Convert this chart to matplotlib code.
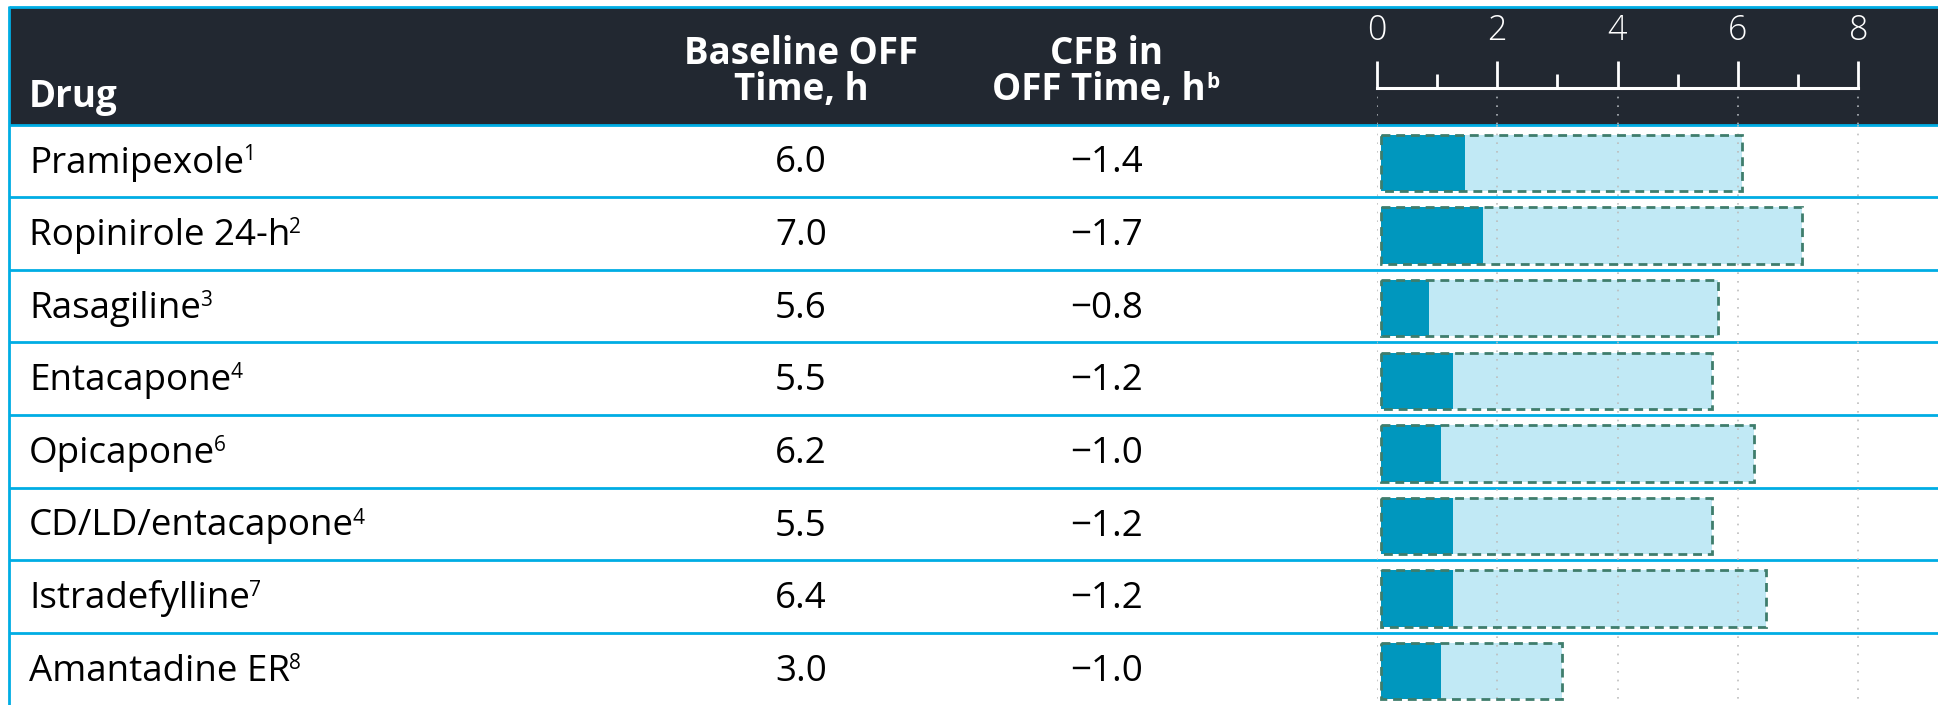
import matplotlib
matplotlib.use("Agg")
import matplotlib.pyplot as plt
from matplotlib.patches import Rectangle
from matplotlib.ticker import FixedLocator

# ---- data ----
drugs = ["Pramipexole", "Ropinirole 24-h", "Rasagiline", "Entacapone",
         "Opicapone", "CD/LD/entacapone", "Istradefylline", "Amantadine ER"]
refs = ["1", "2", "3", "4", "6", "4", "7", "8"]
baseline_off = [6.0, 7.0, 5.6, 5.5, 6.2, 5.5, 6.4, 3.0]
cfb_off = [-1.4, -1.7, -0.8, -1.2, -1.0, -1.2, -1.2, -1.0]
major_ticks = [0, 2, 4, 6, 8]
minor_ticks = [1, 3, 5, 7]

# ---- style ----
FONT = ["Open Sans", "DejaVu Sans"]
plt.rcParams["font.family"] = FONT
DARK_HDR = "#222831"
CYAN = "#00ADE4"
BAR_DARK = "#0097BE"
BAR_LIGHT = "#C1E9F5"
EDGE = "#3F7D6C"
GRID = "#bdbdbd"

W, H = 1938, 705
HDR_TOP, HDR_BOT = 7.5, 124.5
ROW_H = 72.6
LEFT = 9.5
X0, UNIT = 1376.7, 60.2          # pixel of value 0 and pixels per hour
COL_BASE, COL_CFB = 801, 1107
TXT_X = 29
FS = 26.5
FS_SUP = 15

fig = plt.figure(figsize=(W / 100, H / 100), dpi=100)
fig.patch.set_facecolor("white")

# background axes in pixel units (y downwards)
bg = fig.add_axes([0, 0, 1, 1])
bg.set_xlim(0, W)
bg.set_ylim(H, 0)
bg.axis("off")

bg.add_patch(Rectangle((LEFT, HDR_TOP), W - LEFT, HDR_BOT - HDR_TOP,
                       facecolor=DARK_HDR, edgecolor="none", zorder=0))
# table rules
bg.plot([LEFT, W], [6.5, 6.5], color=CYAN, lw=2.0, solid_capstyle="butt", zorder=5)
bg.plot([LEFT, LEFT], [5.5, H], color=CYAN, lw=2.0, solid_capstyle="butt", zorder=5)
for k in range(len(drugs)):
    y = HDR_BOT + k * ROW_H
    bg.plot([LEFT, W], [y, y], color=CYAN, lw=2.0, solid_capstyle="butt", zorder=5)

renderer = fig.canvas.get_renderer()


def text_sup(x, y, main, sup, ha="left", gap=0.0, **kw):
    t = bg.text(x, y, main, ha=ha, va="baseline", **kw)
    bb = t.get_window_extent(renderer)
    kw2 = dict(kw)
    kw2["fontsize"] = FS_SUP
    bg.text(bb.x1 + gap, y - 12, sup, ha="left", va="baseline", **kw2)
    return t


# header
hdr = dict(color="white", fontsize=FS, fontweight="bold")
bg.text(TXT_X, 107, "Drug", ha="left", va="baseline", **hdr)
bg.text(COL_BASE, 64, "Baseline OFF", ha="center", va="baseline", **hdr)
bg.text(COL_BASE, 100, "Time, h", ha="center", va="baseline", **hdr)
bg.text(COL_CFB, 64, "CFB in", ha="center", va="baseline", **hdr)
text_sup(COL_CFB - 8, 100, "OFF Time, h", "b", ha="center", gap=1.0, **hdr)

# body rows
for i, (name, ref, b, c) in enumerate(zip(drugs, refs, baseline_off, cfb_off)):
    yb = HDR_BOT + i * ROW_H + 48.0
    text_sup(TXT_X, yb, name, ref, gap=-1.0, color="black", fontsize=FS)
    bg.text(COL_BASE, yb, f"{b:.1f}", ha="center", va="baseline",
            color="black", fontsize=FS)
    bg.text(COL_CFB, yb, f"{c:.1f}".replace("-", "\u2212"), ha="center",
            va="baseline", color="black", fontsize=FS)

# bar axes: x in hours, y in row units (row i spans [i, i+1])
n = len(drugs)
ax = fig.add_axes([X0 / W, 0, (W - X0) / W, (H - HDR_TOP) / H])
ax.set_xlim(0, (W - X0) / UNIT)
ax.set_ylim((H - HDR_BOT) / ROW_H, (HDR_TOP - HDR_BOT) / ROW_H)
ax.patch.set_alpha(0)
for s in ("left", "right", "bottom"):
    ax.spines[s].set_visible(False)
axis_y = (88.3 - HDR_BOT) / ROW_H
ax.spines["top"].set_position(("data", axis_y))
ax.spines["top"].set_bounds(0, 8)
ax.spines["top"].set_color("white")
ax.spines["top"].set_linewidth(2.2)
ax.xaxis.set_ticks_position("top")
ax.xaxis.set_major_locator(FixedLocator(major_ticks))
ax.xaxis.set_minor_locator(FixedLocator(minor_ticks))
ax.set_xticklabels([str(t) for t in major_ticks])
ax.tick_params(axis="x", which="major", direction="out", length=19.2, width=2.0,
               color="white", pad=10, labelsize=24.5, labelcolor="white")
ax.tick_params(axis="x", which="minor", direction="out", length=10.3, width=2.0,
               color="white")
for lab in ax.get_xticklabels():
    lab.set_fontweight("light")
ax.set_yticks([])

# dotted gridlines
dots = (0, (1, 4.2))
ax.vlines(major_ticks, axis_y, 0, colors="#aeb3b8", lw=1.2, linestyles=[dots], zorder=1)
ax.vlines(major_ticks, 0, n, colors=GRID, lw=1.2, linestyles=[dots], zorder=2)

rows = [i + 0.5 + 0.03 for i in range(n)]
off = 0.07
ax.barh(rows, baseline_off, left=off, height=0.775, color=BAR_LIGHT,
        edgecolor="none", zorder=1)
ax.barh(rows, [abs(c) for c in cfb_off], left=off, height=0.775, color=BAR_DARK,
        edgecolor="none", zorder=3)
ax.barh(rows, baseline_off, left=off, height=0.775, color="none",
        edgecolor=EDGE, linewidth=2.0, linestyle=(0, (3.2, 2.1)), zorder=4)

fig.savefig("out.png", dpi=100, facecolor="white")
